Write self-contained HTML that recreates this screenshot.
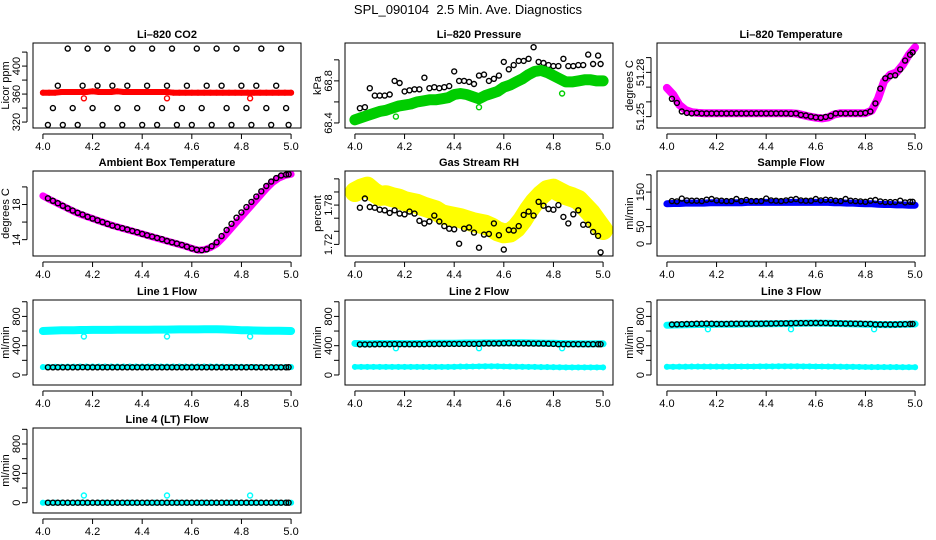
<!DOCTYPE html>
<html><head><meta charset="utf-8"><title>SPL_090104 Diagnostics</title>
<style>
html,body{margin:0;padding:0;background:#fff;}
svg{display:block;font-family:"Liberation Sans",Arial,sans-serif;}
</style></head>
<body>
<svg id="chart" width="936" height="540" viewBox="0 0 936 540" xmlns="http://www.w3.org/2000/svg">
<rect width="936" height="540" fill="#fff"/>
<text x="468" y="14" text-anchor="middle" font-size="13" style="white-space:pre">SPL_090104  2.5 Min. Ave. Diagnostics</text>
</svg>
<script>
// ---- shared time axes ----
const tBand = [4.000,4.025,4.050,4.075,4.100,4.125,4.150,4.175,4.200,4.225,4.250,4.275,4.300,4.325,4.350,4.375,4.400,4.425,4.450,4.475,4.500,4.525,4.550,4.575,4.600,4.625,4.650,4.675,4.700,4.725,4.750,4.775,4.800,4.825,4.850,4.875,4.900,4.925,4.950,4.975,5.000];
const tBlk = [4.02,4.04,4.06,4.08,4.10,4.12,4.14,4.16,4.18,4.20,4.22,4.24,4.26,4.28,4.30,4.32,4.34,4.36,4.38,4.40,4.42,4.44,4.46,4.48,4.50,4.52,4.54,4.56,4.58,4.60,4.62,4.64,4.66,4.68,4.70,4.72,4.74,4.76,4.78,4.80,4.82,4.84,4.86,4.88,4.90,4.92,4.94,4.96,4.98,4.99];
const tOut = [4.165,4.500,4.835];
const xTicks = [4.0,4.2,4.4,4.6,4.8,5.0];
const xTickLabels = ["4.0","4.2","4.4","4.6","4.8","5.0"];

// ---- CO2 ----
const co2Band = [362,362,362,363,363,363,363,363,364,363,363,363,364,363,363,363,363,363,363,363,363,362,362,362,362,362,362,362,362,362,362,362,362,362,362,362,362,362,362,362,362];
const co2Out = [354,354,354];
const co2Blk = [316,340,372,316,425,340,316,372,425,340,372,316,425,372,340,316,372,425,340,316,372,425,316,340,372,425,316,340,372,316,425,340,372,316,425,372,340,316,425,372,340,316,372,425,340,316,372,425,340,316];
// ---- Pressure ----
const presBand = [68.43,68.45,68.47,68.49,68.51,68.52,68.54,68.56,68.57,68.58,68.60,68.61,68.62,68.62,68.63,68.64,68.67,68.68,68.67,68.65,68.63,68.66,68.68,68.70,68.74,68.76,68.79,68.82,68.86,68.89,68.90,68.88,68.85,68.82,68.79,68.79,68.80,68.81,68.81,68.80,68.80];
const presOut = [68.46,68.55,68.68];
const presBlk = [68.54,68.55,68.73,68.66,68.66,68.66,68.67,68.80,68.78,68.70,68.71,68.72,68.72,68.83,68.73,68.74,68.73,68.74,68.75,68.89,68.80,68.80,68.79,68.77,68.85,68.86,68.80,68.82,68.85,68.98,68.91,68.95,68.99,68.99,69.01,69.12,68.98,68.97,68.95,68.94,68.94,69.01,68.94,68.94,68.95,68.95,69.05,68.96,69.04,68.96];
// ---- Li-820 temperature ----
const ltBand = [51.2695,51.2650,51.2580,51.2545,51.2530,51.2525,51.2523,51.2523,51.2523,51.2523,51.2523,51.2523,51.2523,51.2523,51.2523,51.2523,51.2523,51.2523,51.2523,51.2523,51.2523,51.2520,51.2510,51.2500,51.2493,51.2488,51.2495,51.2515,51.2523,51.2523,51.2523,51.2523,51.2523,51.2540,51.2620,51.2740,51.2785,51.2800,51.2850,51.2920,51.2970];
const ltBlk = [51.2621,51.2593,51.2535,51.2525,51.2522,51.2525,51.2522,51.2522,51.2522,51.2522,51.2522,51.2522,51.2522,51.2522,51.2522,51.2522,51.2522,51.2522,51.2522,51.2522,51.2522,51.2522,51.2522,51.2522,51.2520,51.2522,51.2512,51.2508,51.2500,51.2495,51.2492,51.2498,51.2505,51.2522,51.2522,51.2522,51.2522,51.2522,51.2522,51.2525,51.2535,51.2590,51.2690,51.2760,51.2775,51.2780,51.2820,51.2880,51.2920,51.2935];
// ---- Ambient ----
const ambBand = [18.98,18.6,18.25,17.9,17.55,17.2,16.9,16.65,16.4,16.15,15.9,15.65,15.45,15.25,15.05,14.85,14.65,14.45,14.25,14.05,13.85,13.65,13.45,13.25,13.0,12.8,12.85,13.1,13.5,14.2,15.0,15.8,16.6,17.4,18.2,19.0,19.8,20.5,21.0,21.3,21.45];
const ambBlk = [18.7,18.42,18.15,17.85,17.57,17.3,17.05,16.85,16.6,16.4,16.2,16.0,15.8,15.6,15.45,15.3,15.15,15.0,14.85,14.65,14.5,14.35,14.2,14.05,13.85,13.7,13.55,13.4,13.2,13.0,12.85,12.8,12.9,13.25,13.7,14.4,15.1,15.8,16.5,17.1,17.7,18.3,18.9,19.5,20.1,20.6,21.0,21.3,21.4,21.45];
// ---- RH ----
const rhBand = [1.800,1.805,1.808,1.800,1.794,1.795,1.792,1.790,1.786,1.784,1.782,1.778,1.775,1.772,1.766,1.764,1.762,1.760,1.757,1.754,1.752,1.750,1.746,1.740,1.737,1.738,1.745,1.757,1.772,1.785,1.795,1.803,1.805,1.800,1.795,1.792,1.788,1.778,1.768,1.755,1.742];
const rhBlk = [1.776,1.790,1.777,1.776,1.773,1.772,1.768,1.772,1.767,1.766,1.770,1.767,1.756,1.752,1.755,1.764,1.755,1.748,1.744,1.743,1.721,1.744,1.746,1.738,1.715,1.735,1.736,1.752,1.734,1.712,1.742,1.741,1.748,1.765,1.770,1.764,1.785,1.779,1.774,1.773,1.780,1.762,1.752,1.766,1.772,1.750,1.750,1.739,1.733,1.708];
// ---- Sample flow ----
const sfBand = [116,117,117,118,118,118,118,119,119,119,119,119,119,120,120,120,120,120,120,120,120,120,120,120,120,120,120,119,119,118,118,117,116,116,115,114,114,113,113,112,112];
const sfBlk = [124,123,131,126,125,125,124,128,130,126,125,124,124,130,124,127,124,124,124,131,126,125,124,126,128,130,126,125,125,130,126,128,127,125,124,130,125,124,123,122,125,127,123,121,121,121,125,120,122,122];
// ---- Line flows ----
const l1Up = [600,605,608,610,612,612,614,614,615,615,616,616,617,617,618,618,618,619,620,620,620,621,622,622,622,623,624,624,625,622,620,615,612,610,608,606,605,604,603,602,600];
const l1Low = [108,110,112,112,113,113,114,114,114,115,115,115,115,115,116,116,116,116,116,116,116,116,116,115,115,115,114,114,114,113,112,112,111,110,110,109,109,108,108,107,107];
const l1Out = [525,525,525];
const l1Blk = [105,105,105,105,105,105,105,106,105,105,105,105,105,105,105,105,105,105,105,105,105,105,105,105,105,105,105,105,105,105,105,105,105,105,105,105,105,105,105,105,105,106,105,105,105,105,105,105,105,106];
const l2Up = [430,428,426,428,430,428,430,430,428,428,430,430,432,432,433,433,434,435,436,436,437,438,438,438,439,440,440,440,438,436,435,434,432,430,428,426,426,425,425,426,426];
const l2Low = [110,110,110,110,110,110,110,110,110,110,110,110,110,110,110,110,112,114,115,116,117,118,118,118,116,115,113,112,110,110,108,107,106,105,104,104,104,104,104,103,103];
const l2Out = [365,365,365];
const l2Blk = [418,418,418,419,420,420,420,422,420,420,420,420,420,420,422,422,423,423,424,424,424,425,425,425,426,430,430,430,430,432,432,432,430,430,430,428,428,428,427,424,420,420,420,420,420,420,420,420,420,420];
const l3Up = [680,682,684,686,688,690,690,690,692,692,694,694,696,696,698,698,700,700,702,702,704,705,706,708,708,707,706,704,702,700,698,696,694,692,690,688,688,690,692,694,696];
const l3Low = [112,112,113,113,114,114,115,115,115,115,115,116,116,116,116,117,117,117,118,118,118,118,117,117,116,116,115,114,113,112,111,110,109,108,108,107,107,107,106,106,106];
const l3Out = [625,625,625];
const l3Blk = [690,692,694,696,698,700,700,702,700,698,698,698,700,700,700,700,700,700,700,702,702,704,704,706,706,708,708,708,708,710,710,708,706,706,704,702,702,700,700,698,698,690,690,690,690,690,692,694,696,698];
const l4Band = [0,0,0,0,0,0,0,0,0,0,0,0,0,0,0,0,0,0,0,0,0,0,0,0,0,0,0,0,0,0,0,0,0,0,0,0,0,0,0,0,0];
const l4Out = [98,98,98];
const l4Blk = [0,0,0,0,0,0,0,0,0,0,0,0,0,0,0,0,0,0,0,0,0,0,0,0,0,0,0,0,0,0,0,0,0,0,0,0,0,0,0,0,0,0,0,0,0,0,0,0,0,0];

// ---- tick specs ----
const co2Ticks=[320,340,360,380,400,420], co2Labels=["320","","360","","400",""];
const presTicks=[68.4,68.6,68.8,69.0], presLabels=["68.4","","68.8",""];
const ltTicks=[51.25,51.26,51.27,51.28,51.29], ltLabels=["51.25","","","51.28",""];
const ambTicks=[14,16,18,20], ambLabels=["14","","18",""];
const rhTicks=[1.72,1.74,1.76,1.78,1.80,1.82], rhLabels=["1.72","","","1.78","",""];
const sfTicks=[0,50,100,150,200], sfLabels=["0","50","","150",""];
const lfTicks=[0,200,400,600,800,1000], lfLabels=["0","","400","","800",""];

const NS="http://www.w3.org/2000/svg";
const svg=document.getElementById('chart');
const colL=[33,345,657], rowT=[43,171,300,428], PW=268, PH=85;
const XMIN=3.96, XMAX=5.04;
function mk(tag,attrs,parent){const e=document.createElementNS(NS,tag);for(const k in attrs)e.setAttribute(k,attrs[k]);(parent||svg).appendChild(e);return e;}

const panels=[
 {c:0,r:0,key:'co2',title:'Li\u2013820 CO2',ylab:'Licor ppm',ymin:311.5,ymax:433,ticks:co2Ticks,labels:co2Labels,
  layers:[{k:'pts',t:tBlk,v:co2Blk,col:'#000'},{k:'band',t:tBand,v:co2Band,col:'#ff0000',w:6},{k:'pts',t:tOut,v:co2Out,col:'#ff0000'}]},
 {c:1,r:0,key:'pressure',title:'Li\u2013820 Pressure',ylab:'kPa',ymin:68.352,ymax:69.16,ticks:presTicks,labels:presLabels,
  layers:[{k:'pts',t:tBlk,v:presBlk,col:'#000'},{k:'band',t:tBand,v:presBand,col:'#00cd00',w:11},{k:'pts',t:tOut,v:presOut,col:'#00cd00'}]},
 {c:2,r:0,key:'li-temp',title:'Li\u2013820 Temperature',ylab:'degrees C',ymin:51.2423,ymax:51.2999,ticks:ltTicks,labels:ltLabels,
  layers:[{k:'band',t:tBand,v:ltBand,col:'#ff00ff',w:8},{k:'pts',t:tBlk,v:ltBlk,col:'#000'}]},
 {c:0,r:1,key:'ambient',title:'Ambient Box Temperature',ylab:'degrees C',ymin:12.14,ymax:21.81,ticks:ambTicks,labels:ambLabels,
  layers:[{k:'band',t:tBand,v:ambBand,col:'#ff00ff',w:7},{k:'pts',t:tBlk,v:ambBlk,col:'#000'}]},
 {c:1,r:1,key:'rh',title:'Gas Stream RH',ylab:'percent',ymin:1.7023,ymax:1.832,ticks:rhTicks,labels:rhLabels,
  layers:[{k:'band',t:tBand,v:rhBand,col:'#ffff00',w:20},{k:'pts',t:tBlk,v:rhBlk,col:'#000'}]},
 {c:2,r:1,key:'sample',title:'Sample Flow',ylab:'ml/min',ymin:-35,ymax:211,ticks:sfTicks,labels:sfLabels,
  layers:[{k:'band',t:tBand,v:sfBand,col:'#0000ff',w:7},{k:'pts',t:tBlk,v:sfBlk,col:'#000'}]},
 {c:0,r:2,key:'line1',title:'Line 1 Flow',ylab:'ml/min',ymin:-137,ymax:1024,ticks:lfTicks,labels:lfLabels,
  layers:[{k:'band',t:tBand,v:l1Up,col:'#00ffff',w:8},{k:'band',t:tBand,v:l1Low,col:'#00ffff',w:5},{k:'pts',t:tOut,v:l1Out,col:'#00ffff'},{k:'pts',t:tBlk,v:l1Blk,col:'#000'}]},
 {c:1,r:2,key:'line2',title:'Line 2 Flow',ylab:'ml/min',ymin:-137,ymax:1024,ticks:lfTicks,labels:lfLabels,
  layers:[{k:'band',t:tBand,v:l2Up,col:'#00ffff',w:7},{k:'band',t:tBand,v:l2Low,col:'#00ffff',w:5},{k:'pts',t:tOut,v:l2Out,col:'#00ffff'},{k:'pts',t:tBlk,v:l2Blk,col:'#000'}]},
 {c:2,r:2,key:'line3',title:'Line 3 Flow',ylab:'ml/min',ymin:-137,ymax:1024,ticks:lfTicks,labels:lfLabels,
  layers:[{k:'band',t:tBand,v:l3Up,col:'#00ffff',w:7},{k:'band',t:tBand,v:l3Low,col:'#00ffff',w:5},{k:'pts',t:tOut,v:l3Out,col:'#00ffff'},{k:'pts',t:tBlk,v:l3Blk,col:'#000'}]},
 {c:0,r:3,key:'line4',title:'Line 4 (LT) Flow',ylab:'ml/min',ymin:-140,ymax:1018,ticks:lfTicks,labels:lfLabels,
  layers:[{k:'band',t:tBand,v:l4Band,col:'#00ffff',w:5},{k:'pts',t:tOut,v:l4Out,col:'#00ffff'},{k:'pts',t:tBlk,v:l4Blk,col:'#000'}]}
];

panels.forEach(p=>{
  const L=colL[p.c], T=rowT[p.r], B=T+PH, R=L+PW;
  const sx=x=>L+(x-XMIN)/(XMAX-XMIN)*PW;
  const sy=y=>B-(y-p.ymin)/(p.ymax-p.ymin)*PH;
  const g=mk('g',{});
  
  
  const clipId='clip-'+p.key;
  const cp=mk('clipPath',{id:clipId},g); mk('rect',{x:L,y:T,width:PW,height:PH},cp);
  const plot=mk('g',{'clip-path':'url(#'+clipId+')'},g);
  
  
  p.layers.forEach(ly=>{
    if(ly.k==='band'){
      const pts=ly.t.map((t,i)=>sx(t).toFixed(1)+','+sy(ly.v[i]).toFixed(1)).join(' ');
      const pl=mk('polyline',{points:pts,fill:'none',stroke:ly.col,'stroke-width':ly.w,'stroke-linejoin':'round','stroke-linecap':'round'},plot);
      
      
      ly.t.forEach((t,i)=>{
        const c=mk('circle',{cx:sx(t).toFixed(1),cy:sy(ly.v[i]).toFixed(1),r:2.4,fill:'none',stroke:ly.col,'stroke-width':1.3},plot);
        
        
      });
    } else {
      ly.t.forEach((t,i)=>{
        const c=mk('circle',{cx:sx(t).toFixed(1),cy:sy(ly.v[i]).toFixed(1),r:2.5,fill:'none',stroke:ly.col,'stroke-width':1.4},plot);
        
        
      });
    }
  });
  const box=mk('rect',{x:L,y:T,width:PW,height:PH,fill:'none',stroke:'#000','stroke-width':1},g);
  
  
  const tt=mk('text',{x:(L+R)/2,y:T-5,'text-anchor':'middle','font-size':'11','font-weight':'bold'},g);
  tt.textContent=p.title;
  
  
  // x axis
  const xa=mk('g',{},g);
  
  
  mk('line',{x1:sx(xTicks[0]),x2:sx(xTicks[xTicks.length-1]),y1:B+6,y2:B+6,stroke:'#000'},xa);
  xTicks.forEach((t,i)=>{
    mk('line',{x1:sx(t),x2:sx(t),y1:B+6,y2:B+11,stroke:'#000'},xa);
    const tx=mk('text',{x:sx(t),y:B+22,'text-anchor':'middle','font-size':'11'},xa);
    tx.textContent=xTickLabels[i];
    
    
  });
  // y axis
  const ya=mk('g',{},g);
  
  
  mk('line',{x1:L-6,x2:L-6,y1:sy(p.ticks[0]),y2:sy(p.ticks[p.ticks.length-1]),stroke:'#000'},ya);
  p.ticks.forEach((t,i)=>{
    const y=sy(t);
    mk('line',{x1:L-11,x2:L-6,y1:y,y2:y,stroke:'#000'},ya);
    if(p.labels[i]){
      const tx=mk('text',{x:0,y:0,'text-anchor':'middle','font-size':'11',transform:'translate('+(L-13)+','+y.toFixed(1)+') rotate(-90)'},ya);
      tx.textContent=p.labels[i];
      
      
    }
  });
  const yl=mk('text',{x:0,y:0,'text-anchor':'middle','font-size':'11',transform:'translate('+(L-24)+','+((T+B)/2)+') rotate(-90)'},g);
  yl.textContent=p.ylab;
  
  
});
</script>
</body></html>
